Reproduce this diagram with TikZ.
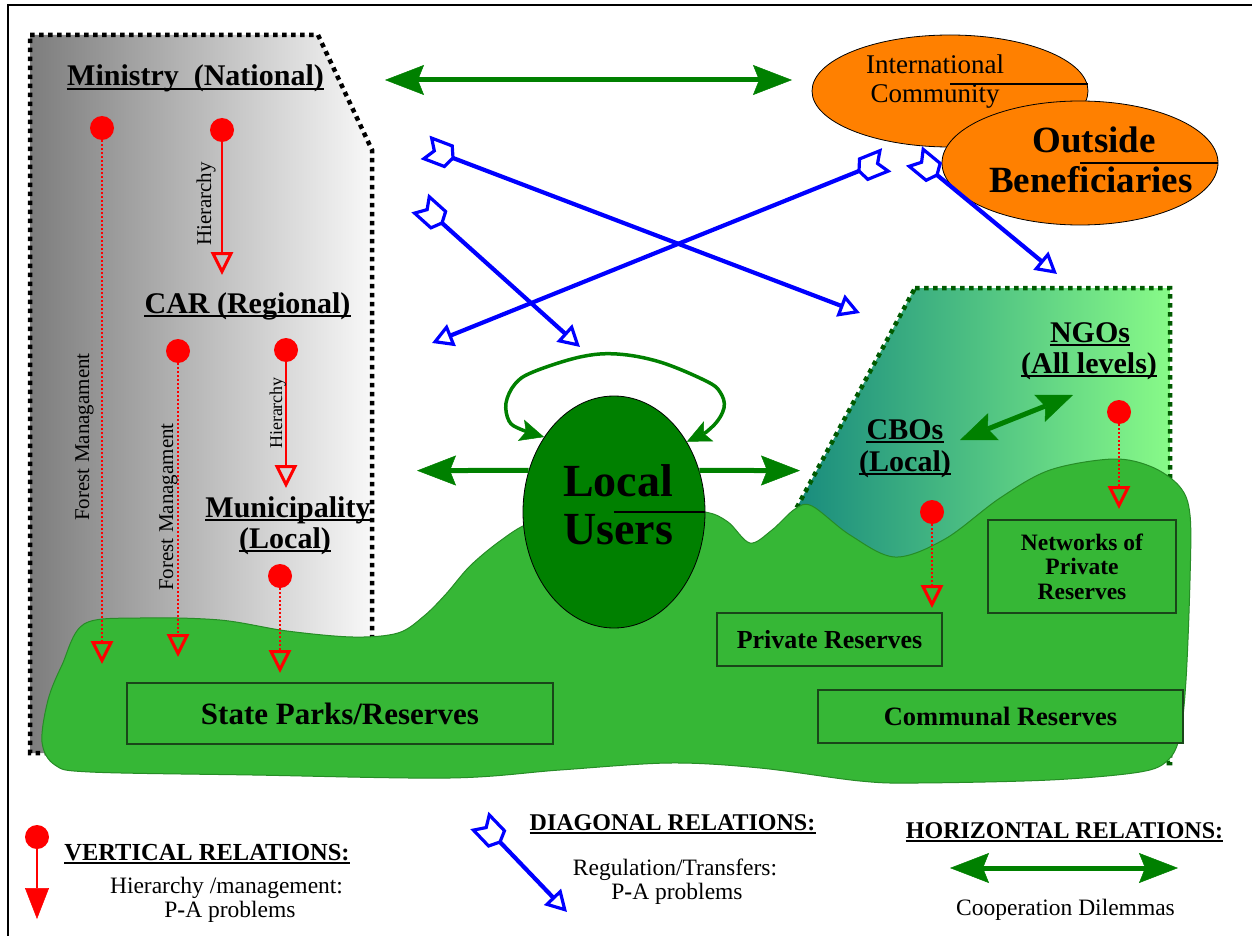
\documentclass[tikz,border=0pt]{standalone}
\usepackage{fontspec}
\setmainfont{Liberation Serif}
\usetikzlibrary{arrows.meta,shapes.geometric,calc}
\definecolor{hillg}{RGB}{54,183,54}
\definecolor{hilledge}{RGB}{38,140,38}
\definecolor{darkg}{RGB}{0,128,0}
\definecolor{orng}{RGB}{255,128,0}
\definecolor{tealL}{RGB}{20,135,125}
\definecolor{lgreen}{RGB}{136,250,136}
\definecolor{dotg}{RGB}{0,90,0}
\definecolor{greyL}{RGB}{125,125,125}
\definecolor{greyR}{RGB}{248,248,248}
\definecolor{boxedge}{RGB}{25,70,25}
\newcommand\fs[1]{\fontsize{#1}{#1}\selectfont}
\newcommand\ulin[1]{\draw[line width=1.6pt] ([yshift=-3pt]#1.base west) -- ([yshift=-3pt]#1.base east);}
\tikzset{
  fletch/.pic={\draw[blue, line width=3.2pt, line join=miter] (0,0) -- (-5,-11) -- (-27,-11) -- (-20,0) -- (-27,11) -- (-5,11) -- cycle;},
  bluearr/.style={draw=blue, line width=4.2pt, -{Triangle[open, length=21pt, width=23pt, line width=3.2pt]}},
  dotline/.style={line width=4.5pt, dash pattern=on 4.5pt off 4.5pt},
  rdot/.style={circle, fill=red, minimum size=24pt, inner sep=0pt},
  reddots/.style={draw=red, line width=2pt, dash pattern=on 2pt off 2pt, -{Triangle[open, length=23pt, width=22pt, line width=3pt]}},
  redsolid/.style={draw=red, line width=2.2pt, -{Triangle[open, length=23pt, width=22pt, line width=3pt]}},
  garrow/.style={draw=darkg, line width=5pt, >={Stealth[length=39pt, width=30pt, inset=6pt, line width=0.5pt]}},
  gsmall/.style={draw=darkg, line width=3.5pt, >={Stealth[length=24pt, width=22pt, inset=5pt, line width=0.5pt]}},
  title/.style={font=\fs{30}\bfseries, inner sep=0pt, anchor=base},
  lbl/.style={inner sep=0pt, anchor=base},
  resbox/.style={draw=boxedge, line width=1.2pt, fill=hillg, inner sep=0pt, font=\bfseries},
}
\newcommand\bluerel[2]{%
  \draw[bluearr] (#1) -- (#2);
  \path let \p1=($(#2)-(#1)$), \n1={atan2(\y1,\x1)} in (#1) pic[rotate=\n1] {fletch};}
\begin{document}
\begin{tikzpicture}[x=1pt,y=-1pt]
\useasboundingbox (0,0) rectangle (1252,936);
\fill[white] (0,0) rectangle (1252,936);
% frame
\draw[line width=2.5pt] (8,950) -- (8,5) -- (1265,5);
% national/regional/local block
\path[left color=greyL, right color=greyR, draw=black, dotline]
  (30,35) -- (318,35) -- (372,150) -- (372,753) -- (30,753) -- cycle;
% NGO block
\path[left color=tealL, right color=lgreen, draw=dotg, dotline]
  (915,288) -- (1170,288) -- (1170,763) -- (782,763) -- (782,535) -- cycle;
% hill
\filldraw[fill=hillg, draw=hilledge, line width=1pt] plot[smooth cycle, tension=0.55] coordinates {
 (84,624) (140,618) (220,620) (287,631) (353,637) (398,633) (424,616) (446,594)
 (470,566) (500,541) (530,523) (580,512) (650,508) (705,512) (728,522) (750,543)
 (772,530) (795,509) (812,506) (850,535) (895,557) (945,539) (1000,498) (1050,470)
 (1113,459) (1152,467) (1180,487) (1190,515) (1190,580) (1186,680) (1180,735)
 (1168,760) (1140,772) (1050,780) (917,783) (860,781) (760,768) (670,763)
 (560,770) (450,778) (253,775) (90,772) (55,765) (42,742) (48,700) (62,665)};
% reserve boxes
\node[resbox, minimum width=426pt, minimum height=61pt, font=\fs{31}\bfseries] (sp) at (340,713.5) {State Parks/Reserves};
\node[resbox, minimum width=225pt, minimum height=53pt, font=\fs{26}\bfseries] (pr) at (829.5,639.5) {Private Reserves};
\node[resbox, minimum width=365pt, minimum height=53pt, font=\fs{26.5}\bfseries] (cr) at (1000.5,716.5) {Communal Reserves};
\node[resbox, minimum width=188pt, minimum height=93pt, align=center, font=\fontsize{23.5}{24.5}\selectfont\bfseries] (nw) at (1082,566.5) {Networks of\\Private\\Reserves};
% red vertical relations
\node[rdot] (d1) at (102,128) {};   \coordinate (t1) at (102,664);
\node[rdot] (d2) at (222,130) {};   \coordinate (t2) at (222,275);
\node[rdot] (d3) at (178,351) {};   \coordinate (t3) at (178,657);
\node[rdot] (d4) at (286,350) {};   \coordinate (t4) at (286,488);
\node[rdot] (d5) at (280,576) {};   \coordinate (t5) at (280,673);
\node[rdot] (d6) at (932,512) {};   \coordinate (t6) at (932,608);
\node[rdot] (d7) at (1119,412) {};  \coordinate (t7) at (1119,509);
\draw[reddots] (d1) -- (t1);
\draw[redsolid] (d2) -- (t2);
\draw[reddots] (d3) -- (t3);
\draw[redsolid] (d4) -- (t4);
\draw[reddots] (d5) -- (t5);
\draw[reddots] (d6) -- (t6);
\draw[reddots] (d7) -- (t7);
\node[lbl, rotate=90, font=\fs{21}] (fm1) at (89,437) {Forest Managament};
\node[lbl, rotate=90, font=\fs{21}] (fm2) at (173,507) {Forest Managament};
\node[lbl, rotate=90, font=\fs{21}] (hi1) at (211,204) {Hierarchy};
\node[lbl, rotate=90, font=\fs{18}] (hi2) at (282,413) {Hierarchy};
% ellipses
\node[ellipse, draw=black, line width=0.8pt, fill=orng, minimum width=276pt, minimum height=112pt] (intl) at (950,91) {};
\node[ellipse, draw=black, line width=0.8pt, fill=orng, minimum width=276pt, minimum height=124pt] (outb) at (1080,163) {};
\node[ellipse, draw=black, line width=0.8pt, fill=darkg, minimum width=182pt, minimum height=232pt] (lu) at (614,512) {};
\draw[line width=1.2pt] ([yshift=7pt]intl.center) -- ([yshift=7pt]intl.east);
\draw[line width=1.2pt] (outb.center) -- (outb.east);
\draw[line width=1.2pt] (lu.center) -- (lu.east);
\node[lbl, font=\fs{27}] (ic1) at (935,74) {International};
\node[lbl, font=\fs{27}] (ic2) at (935,103) {Community};
\node[lbl, font=\fs{37}\bfseries] (ob1) at (1094,153) {Outside};
\node[lbl, font=\fs{37}\bfseries] (ob2) at (1091,193) {Beneficiaries};
\node[lbl, font=\fs{46}\bfseries] (lu1) at (618,496) {Local};
\node[lbl, font=\fs{46}\bfseries] (lu2) at (618,544) {Users};
% blue diagonal relations
\coordinate (bA1) at (453,158); \coordinate (bA2) at (860,313);
\coordinate (bB1) at (442,223); \coordinate (bB2) at (580,347);
\coordinate (bC1) at (859,171); \coordinate (bC2) at (432,343);
\coordinate (bD1) at (937,175); \coordinate (bD2) at (1057,274);
\bluerel{bA1}{bA2}
\bluerel{bB1}{bB2}
\bluerel{bC1}{bC2}
\bluerel{bD1}{bD2}
% green horizontal relations
\coordinate (g1a) at (385,80); \coordinate (g1b) at (792,80);
\draw[garrow, <->] (g1a) -- (g1b);
\coordinate (g2) at (417,470.6);
\draw[garrow, ->] (lu.154) -- (g2);
\coordinate (g3) at (800,470.6);
\draw[garrow, ->] (lu.26) -- (g3);
\draw[gsmall, <->] plot[smooth, tension=0.6] coordinates {(lu.44) (712,427) (724,408) (720,392) (706,381) (660,362) (617,354) (580,357) (533,372) (515,384) (506,403) (509,421) (520,429) (lu.133)};
\coordinate (g4a) at (960,440); \coordinate (g4b) at (1073,395);
\draw[garrow, <->, >={Stealth[length=36pt, width=29pt, inset=6pt, line width=0.5pt]}] (g4a) -- (g4b);
% titles
\node[title] (min) at (195.5,86) {Ministry\ \ (National)}; \ulin{min}
\node[title] (car) at (247.5,313) {CAR (Regional)}; \ulin{car}
\node[title] (mun1) at (288,517) {Municipality}; \ulin{mun1}
\node[title] (mun2) at (285,548) {(Local)}; \ulin{mun2}
\node[title] (ngo1) at (1090,342) {NGOs}; \ulin{ngo1}
\node[title] (ngo2) at (1089,373) {(All levels)}; \ulin{ngo2}
\node[title] (cbo1) at (905,439) {CBOs}; \ulin{cbo1}
\node[title] (cbo2) at (905,471) {(Local)}; \ulin{cbo2}
% legend
\node[rdot] (ld) at (37,837) {};
\coordinate (lt) at (37,919);
\draw[draw=red, line width=2.2pt, -{Triangle[length=31pt, width=24pt, line width=0.5pt]}, red] (ld) -- (lt);
\node[lbl, font=\fs{24.5}\bfseries] (vr) at (207,860) {VERTICAL RELATIONS:}; \ulin{vr}
\node[lbl, font=\fs{23.5}] (vr1) at (226.5,893) {Hierarchy /management:};
\node[lbl, font=\fs{23.5}] (vr2) at (230,917) {P\textbf{-}A problems};
\coordinate (lb1) at (500,842); \coordinate (lb2) at (567,912);
\bluerel{lb1}{lb2}
\node[lbl, font=\fs{24}\bfseries] (dr) at (672.5,830) {DIAGONAL RELATIONS:}; \ulin{dr}
\node[lbl, font=\fs{23.5}] (dr1) at (675,875) {Regulation/Transfers:};
\node[lbl, font=\fs{23.5}] (dr2) at (677,899) {P\textbf{-}A problems};
\node[lbl, font=\fs{24}\bfseries] (hr) at (1064.5,838) {HORIZONTAL RELATIONS:}; \ulin{hr}
\coordinate (lg1) at (950,868); \coordinate (lg2) at (1178,868);
\draw[garrow, <->] (lg1) -- (lg2);
\node[lbl, font=\fs{23.5}] (hr1) at (1065.5,915) {Cooperation Dilemmas};
\end{tikzpicture}
\end{document}
